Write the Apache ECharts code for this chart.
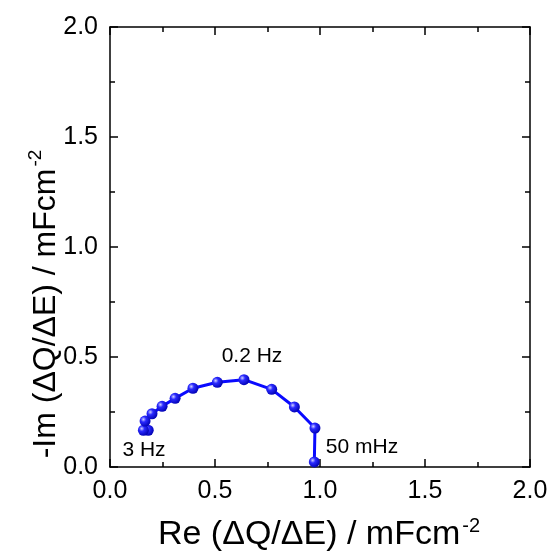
<!DOCTYPE html>
<html>
<head>
<meta charset="utf-8">
<script src="https://cdn.jsdelivr.net/npm/echarts@6/dist/echarts.min.js"></script>
<style>
html,body{margin:0;padding:0;background:#fff;}
#chart{width:552px;height:551px;}
</style>
</head>
<body>
<div id="chart"></div>
<script>
// Data (Re, -Im) in mF cm^-2, from 3 Hz to 50 mHz
var reValues = [0.182, 0.159, 0.167, 0.200, 0.248, 0.310, 0.395, 0.511, 0.638, 0.770, 0.878, 0.976, 0.973];
var imValues = [0.167, 0.167, 0.209, 0.242, 0.276, 0.312, 0.358, 0.385, 0.397, 0.353, 0.273, 0.177, 0.023];
var xTicks = ['0.0', '0.5', '1.0', '1.5', '2.0'];
var yTicks = ['0.0', '0.5', '1.0', '1.5', '2.0'];
var freqLabels = ['3 Hz', '0.2 Hz', '50 mHz'];
var xTitle = 'Re (ΔQ/ΔE) / mFcm';
var yTitle = '-Im (ΔQ/ΔE) / mFcm';
var unitExp = '-2';

var points = reValues.map(function (r, i) { return [r, imValues[i]]; });
var FONT = '"Liberation Sans", Arial, sans-serif';

var chart = echarts.init(document.getElementById('chart'), null, {renderer: 'canvas'});

function tickFmt(list) {
  return function (v) { return list[Math.round(v / 0.5)]; };
}

var axisCommon = {
  type: 'value', min: 0, max: 2, interval: 0.5,
  axisLine: {show: true, onZero: false, lineStyle: {color: '#000', width: 1.5}},
  axisTick: {show: true, inside: true, length: 8, lineStyle: {color: '#000', width: 1.5}},
  minorTick: {show: true, splitNumber: 2, length: 5, lineStyle: {color: '#000', width: 1.5}},
  splitLine: {show: false},
  minorSplitLine: {show: false}
};

var ballColor = new echarts.graphic.RadialGradient(0.35, 0.35, 0.7, [
  {offset: 0, color: '#d0d0ff'},
  {offset: 0.35, color: '#2a2aff'},
  {offset: 1, color: '#0000b0'}
]);

function titleRich(size) {
  return {
    a: {fontSize: size, fontFamily: FONT, fill: '#000', lineHeight: 36, verticalAlign: 'bottom'},
    s: {fontSize: Math.round(size * 0.6), fontFamily: FONT, fill: '#000', lineHeight: 36, verticalAlign: 'top', padding: [0, 0, 14, 2]}
  };
}

var option = {
  backgroundColor: '#fff',
  animation: false,
  grid: {left: 110, top: 27, width: 420, height: 440, containLabel: false},
  xAxis: [
    Object.assign({}, axisCommon, {
      position: 'bottom',
      axisLabel: {show: true, margin: 12, fontSize: 25, color: '#000', fontFamily: FONT, formatter: tickFmt(xTicks)}
    }),
    Object.assign({}, axisCommon, {position: 'top', axisLabel: {show: false}})
  ],
  yAxis: [
    Object.assign({}, axisCommon, {
      position: 'left',
      axisLabel: {show: true, margin: 12, fontSize: 25, color: '#000', fontFamily: FONT, formatter: tickFmt(yTicks)}
    }),
    Object.assign({}, axisCommon, {position: 'right', axisLabel: {show: false}})
  ],
  series: [{
    type: 'line',
    xAxisIndex: 0, yAxisIndex: 0,
    data: points,
    symbol: 'circle',
    symbolSize: 11,
    showAllSymbol: true,
    lineStyle: {color: '#0a0aff', width: 3},
    itemStyle: {color: ballColor, borderWidth: 0},
    z: 3
  }],
  graphic: [
    {
      type: 'text',
      position: [319, 534],
      style: {
        text: '{a|' + xTitle + '}{s|' + unitExp + '}',
        align: 'center', verticalAlign: 'middle',
        fontFamily: FONT,
        rich: titleRich(34)
      }
    },
    {
      type: 'text',
      position: [44, 304],
      rotation: Math.PI / 2,
      style: {
        text: '{a|' + yTitle + '}{s|' + unitExp + '}',
        align: 'center', verticalAlign: 'middle',
        fontFamily: FONT,
        rich: titleRich(32)
      }
    },
    {
      type: 'text', position: [144, 450],
      style: {text: freqLabels[0], fontSize: 21, fontFamily: FONT, fill: '#000', align: 'center', verticalAlign: 'middle'}
    },
    {
      type: 'text', position: [252, 356],
      style: {text: freqLabels[1], fontSize: 21, fontFamily: FONT, fill: '#000', align: 'center', verticalAlign: 'middle'}
    },
    {
      type: 'text', position: [362, 447],
      style: {text: freqLabels[2], fontSize: 21, fontFamily: FONT, fill: '#000', align: 'center', verticalAlign: 'middle'}
    }
  ]
};
chart.setOption(option);
</script>
</body>
</html>
